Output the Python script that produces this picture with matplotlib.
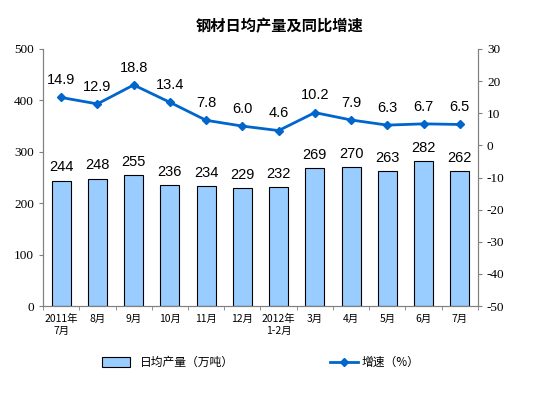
import matplotlib.pyplot as plt
import numpy as np

plt.rcParams['font.family'] = ['Noto Sans CJK SC', 'DejaVu Sans']
plt.rcParams['axes.unicode_minus'] = False

# data
months = ['2011年\n7月', '8月', '9月', '10月', '11月', '12月', '2012年\n1-2月',
          '3月', '4月', '5月', '6月', '7月']
output = [244, 248, 255, 236, 234, 229, 232, 269, 270, 263, 282, 262]
growth = [14.9, 12.9, 18.8, 13.4, 7.8, 6.0, 4.6, 10.2, 7.9, 6.3, 6.7, 6.5]

bar_color = '#99CCFF'
line_color = '#0066CC'
serif = 'Liberation Serif'
sans = 'Liberation Sans'

fig = plt.figure(figsize=(5.59, 3.98), dpi=100)
ax = fig.add_axes([0.077, 0.231, 0.778, 0.646])
ax2 = ax.twinx()

x = np.arange(len(months))
ax.bar(x, output, width=0.52, color=bar_color, edgecolor='black', linewidth=0.8,
       label='日均产量（万吨）', zorder=2)
for xi, v in zip(x, output):
    ax.text(xi, v + 12, str(v), ha='center', va='bottom', fontsize=10.5, family=sans)

ax.set_xlim(-0.5, len(months) - 0.5)
ax.set_ylim(0, 500)
ax.set_yticks(range(0, 501, 100))
ax.set_xticks(x)
ax.set_xticklabels(months, fontsize=7.5)
ax.set_xticks(np.arange(-0.5, len(months), 1), minor=True)
ax.tick_params(axis='x', which='major', length=0, pad=6)
ax.tick_params(axis='x', which='minor', length=3, color='#808080')
ax.tick_params(axis='y', length=3, labelsize=9.5, color='#808080')
for lab in ax.get_yticklabels():
    lab.set_family(serif)

ax2.plot(x, growth, color=line_color, lw=2, marker='D', ms=4.5,
         label='增速（%）', zorder=3)
for xi, v in zip(x, growth):
    ax2.text(xi, v + 3.2, f'{v:.1f}', ha='center', va='bottom', fontsize=10.5, family=sans)
ax2.set_ylim(-50, 30)
ax2.set_yticks(range(-50, 31, 10))
ax2.tick_params(axis='y', length=3, labelsize=9.5, color='#808080')
for lab in ax2.get_yticklabels():
    lab.set_family(serif)

for a in (ax, ax2):
    a.spines['top'].set_visible(False)
    for s in ('left', 'right', 'bottom'):
        a.spines[s].set_color('#808080')

fig.text(0.5, 0.935, '钢材日均产量及同比增速', ha='center', va='center',
         fontsize=11, fontweight='bold')

h1, l1 = ax.get_legend_handles_labels()
h2, l2 = ax2.get_legend_handles_labels()
fig.legend(h1, l1, loc='center', bbox_to_anchor=(0.3, 0.09), frameon=False,
           fontsize=8.5, handlelength=2.4, handleheight=0.9)
fig.legend(h2, l2, loc='center', bbox_to_anchor=(0.67, 0.09), frameon=False,
           fontsize=8.5, handlelength=2.4, handletextpad=0.3)

fig.savefig('out.png', dpi=100)
plt.close(fig)
